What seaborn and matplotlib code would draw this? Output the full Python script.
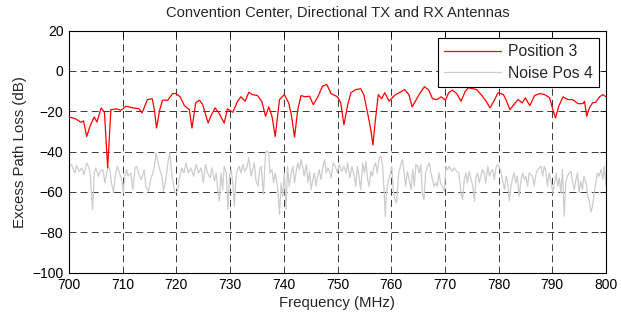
import numpy as np
import pandas as pd
import matplotlib
matplotlib.use("Agg")
import matplotlib.pyplot as plt
import seaborn as sns

# ---------------- data ----------------
pos3_freq = [
    700.0, 701.3, 702.2, 702.7, 703.3, 703.9, 704.7, 705.2, 706.0, 706.6, 707.2, 707.8, 708.8, 709.7,
    710.6, 711.9, 713.0, 713.6, 714.6, 715.5, 715.9, 716.3, 716.9, 717.4, 718.4, 719.3, 719.9,
    720.7, 721.5, 722.4, 722.9, 723.6, 724.3, 724.9, 725.9, 726.4, 727.2, 727.9, 728.9, 729.5,
    730.5, 731.4, 732.0, 732.8, 733.5, 734.1, 735.1, 735.9, 736.6, 737.2, 737.8, 738.4, 739.2,
    740.1, 740.9, 741.4, 742.0, 742.6, 743.2, 744.0, 744.8, 745.5, 746.4, 747.2, 748.0, 748.8,
    750.0, 750.6, 751.2, 751.9, 752.5, 753.4, 754.3, 754.9, 755.6, 756.2, 756.6, 757.0, 757.6,
    758.2, 758.8, 759.6, 760.2, 760.8, 761.7, 762.5, 763.3, 763.9, 764.5, 765.4, 766.2, 767.0,
    767.7, 768.5, 769.3, 770.1, 770.7, 771.4, 772.2, 773.0, 773.8, 774.4, 775.9, 776.9, 777.8,
    778.4, 779.0, 779.9, 780.9, 781.5, 782.1, 782.7, 783.6, 784.4, 785.0, 785.8, 786.7, 787.7,
    788.6, 789.5, 790.1, 790.6, 791.2, 792.0, 792.9, 793.8, 794.8, 795.7, 796.0, 796.4, 796.9,
    797.5, 798.1, 798.8, 799.4, 800.0,
]
pos3_db = [
    -22.8, -23.8, -25.5, -24.7, -32.5, -27.5, -22.8, -25.3, -18.3, -20.5, -48.0, -19.2, -18.8, -19.5,
    -17.5, -18.3, -18.7, -20.8, -14.2, -13.8, -19.2, -28.3, -19.2, -14.5, -14.5, -11.2, -11.2,
    -12.8, -17.2, -19.2, -28.3, -15.8, -14.5, -16.7, -25.8, -22.5, -18.3, -20.8, -25.8, -18.8,
    -20.5, -15.0, -12.8, -15.0, -10.5, -11.7, -12.2, -15.0, -22.5, -17.8, -22.5, -32.5, -14.2,
    -11.7, -15.8, -21.7, -32.8, -19.2, -12.2, -12.8, -12.5, -16.7, -12.5, -7.5, -6.7, -11.2,
    -12.8, -15.8, -26.7, -16.7, -10.8, -9.2, -8.8, -11.7, -20.8, -29.0, -36.7, -25.8, -11.7,
    -13.8, -10.8, -15.0, -13.3, -11.7, -10.5, -9.2, -11.7, -17.8, -15.0, -10.8, -7.8, -9.5,
    -13.8, -14.2, -12.8, -14.5, -10.8, -9.5, -11.2, -15.0, -10.0, -8.3, -9.2, -12.2, -15.5,
    -18.3, -15.5, -10.8, -11.7, -15.0, -19.2, -17.2, -14.2, -15.8, -13.3, -17.2, -12.2, -11.2,
    -11.7, -13.3, -19.2, -23.3, -17.5, -12.8, -14.2, -14.2, -16.2, -16.2, -15.0, -22.5, -18.3,
    -15.8, -15.5, -12.8, -11.7, -12.8,
]

noise_freq = [
    700.0, 700.5, 700.8, 701.1, 701.4, 701.9, 702.4, 702.8, 703.3, 703.6, 703.9, 704.4, 704.7, 705.0,
    705.5, 705.8, 706.3, 706.7, 707.0, 707.3, 707.6, 707.9, 708.3, 708.6, 709.0, 709.4, 709.8,
    710.1, 710.4, 710.7, 711.0, 711.5, 711.9, 712.3, 712.6, 713.1, 713.5, 714.0, 714.3, 714.8, 715.2,
    715.6, 715.9, 716.2, 716.6, 716.9, 717.3, 717.6, 717.9, 718.2, 718.5, 718.8, 719.1, 719.4, 719.7,
    720.2, 720.5, 721.0, 721.4, 721.8, 722.2, 722.7, 723.2, 723.7, 724.1, 724.6, 725.0, 725.4,
    725.8, 726.3, 726.6, 727.1, 727.4, 727.7, 728.0, 728.3, 728.6, 728.9, 729.3, 729.6, 729.9,
    730.2, 730.5, 730.8, 731.1, 731.4, 731.7, 732.0, 732.4, 732.7, 733.1, 733.5, 733.9, 734.2, 734.5,
    734.8, 735.2, 735.5, 735.8, 736.2, 736.6, 736.8, 737.2, 737.4, 737.8, 738.1, 738.4, 738.9, 739.2,
    739.5, 739.8,
    740.1, 740.4, 740.7, 741.0, 741.4, 741.7, 742.0, 742.3, 742.6, 742.9, 743.2, 743.5, 743.8, 744.2,
    744.5, 744.8, 745.1, 745.4, 745.7, 746.0, 746.3, 746.6, 746.9, 747.3, 747.6, 747.9, 748.2, 748.5,
    748.8, 749.2, 749.6,
    750.0, 750.3, 750.8, 751.2, 751.6, 751.9, 752.3, 752.7, 753.1, 753.4, 753.7, 754.0, 754.3, 754.7,
    755.0, 755.3, 755.6, 755.9, 756.2, 756.5, 756.8, 757.1, 757.4, 757.8, 758.1, 758.4, 758.7, 758.9,
    759.1, 759.4, 759.7,
    760.1, 760.4, 760.7, 761.0, 761.4, 761.8, 762.1, 762.4, 762.7, 763.0, 763.3, 763.7, 764.0, 764.3,
    764.6, 764.9, 765.2, 765.5, 765.8, 766.1, 766.4, 766.8, 767.1, 767.4, 767.7, 768.0, 768.3, 768.6,
    768.9, 769.2, 769.6, 769.9,
    770.2, 770.5, 770.8, 771.1, 771.4, 771.7, 772.2, 772.6, 773.0, 773.3, 773.6, 773.9, 774.2, 774.5,
    774.8, 775.2, 775.5, 775.8, 776.1, 776.4, 776.7, 777.0, 777.3, 777.6, 778.0, 778.3, 778.6, 778.9,
    779.2, 779.5, 779.8,
    780.1, 780.4, 780.7, 781.1, 781.4, 781.7, 782.0, 782.3, 782.6, 782.9, 783.2, 783.5, 783.8, 784.2,
    784.5, 784.8, 785.1, 785.4, 785.7, 786.0, 786.3, 786.6, 787.0, 787.3, 787.6, 787.9, 788.2, 788.5,
    788.8, 789.1, 789.4, 789.7,
    790.1, 790.4, 790.7, 791.0, 791.3, 791.6, 791.9, 792.2, 792.5, 792.8, 793.2, 793.5, 793.8, 794.1,
    794.4, 794.7, 795.0, 795.3, 795.6, 795.9, 796.3, 796.6, 796.9, 797.2, 797.5, 797.8, 798.1, 798.4,
    798.7, 799.1, 799.4, 799.7, 800.0,
]
noise_db = [
    -47.5, -46.4, -48.9, -50.6, -46.9, -49.8, -48.1, -51.4, -45.6, -47.3, -49.8, -68.8, -50.6, -48.1,
    -52.2, -49.8, -48.9, -55.5, -50.6, -47.3, -48.9, -55.5, -60.5, -52.2, -47.3, -50.6, -53.9,
    -60.5, -52.2, -48.9, -52.2, -50.6, -58.8, -48.1, -47.3, -52.2, -53.9, -48.9, -57.2, -59.7, -53.9,
    -50.6, -47.3, -40.7, -45.6, -48.9, -52.2, -59.7, -55.5, -50.6, -44.0, -40.7, -50.6, -55.5, -60.5,
    -59.7, -53.9, -48.1, -50.6, -45.6, -50.6, -48.1, -52.2, -46.4, -50.6, -48.1, -55.5, -46.4,
    -50.6, -53.1, -48.1, -54.7, -50.6, -58.8, -64.6, -50.6, -58.8, -47.3, -50.6, -68.8, -52.2,
    -48.9, -55.5, -67.1, -52.2, -48.9, -47.3, -50.6, -46.4, -49.8, -48.1, -43.1, -52.2, -48.9, -45.6,
    -53.9, -57.2, -48.9, -47.3, -61.3, -40.7, -39.8, -40.7, -50.6, -48.9, -55.5, -50.6, -58.8, -71.2,
    -55.5, -62.1,
    -50.6, -68.8, -47.3, -57.2, -50.6, -47.3, -55.5, -49.8, -45.6, -48.9, -44.0, -47.3, -52.2, -46.4,
    -55.5, -49.8, -58.8, -53.9, -50.6, -57.2, -52.2, -48.9, -53.9, -47.3, -44.0, -50.6, -48.1, -49.8,
    -53.1, -45.6, -47.3,
    -50.6, -46.4, -49.8, -47.3, -50.6, -45.6, -53.1, -47.3, -52.2, -57.2, -47.3, -52.2, -58.8, -45.6,
    -50.6, -44.8, -53.9, -57.2, -49.8, -52.2, -47.3, -45.6, -50.6, -43.1, -42.3, -47.3, -60.5, -72.1,
    -60.5, -55.5, -52.2,
    -47.3, -59.7, -63.8, -65.5, -50.6, -46.4, -44.0, -50.6, -57.2, -49.8, -53.1, -58.8, -48.9, -57.2,
    -46.4, -47.3, -50.6, -46.4, -60.5, -63.8, -50.6, -47.3, -45.6, -50.6, -53.9, -57.2, -55.5, -57.2,
    -50.6, -55.5, -58.0, -59.7,
    -47.3, -48.9, -47.3, -48.9, -49.8, -48.1, -49.8, -50.6, -60.5, -63.8, -53.9, -50.6, -55.5, -49.8,
    -53.1, -57.2, -64.6, -52.2, -50.6, -55.5, -52.2, -48.9, -50.6, -55.5, -47.3, -52.2, -49.8, -48.9,
    -53.9, -48.1, -46.4,
    -47.3, -49.8, -53.9, -58.8, -52.2, -55.5, -64.6, -57.2, -53.1, -50.6, -55.5, -52.2, -62.1, -53.9,
    -50.6, -53.9, -52.2, -57.2, -50.6, -51.4, -52.2, -57.2, -50.6, -48.9, -48.1, -47.3, -52.2, -47.3,
    -49.8, -57.2, -50.6, -53.9,
    -60.5, -55.5, -50.6, -57.2, -53.1, -60.5, -48.9, -72.1, -55.5, -52.2, -50.6, -49.8, -55.5, -58.8,
    -53.9, -50.6, -60.5, -54.7, -58.8, -52.2, -55.5, -62.1, -64.6, -70.0, -67.1, -60.5, -55.5, -50.6,
    -52.2, -48.9, -53.9, -47.3, -57.2,
]

x_ticks = [700, 710, 720, 730, 740, 750, 760, 770, 780, 790, 800]
y_ticks = [-100, -80, -60, -40, -20, 0, 20]
series_labels = ["Position 3", "Noise Pos 4"]

# ---------------- plot ----------------
sns.set_style("white")
plt.rcParams["font.family"] = ["Liberation Sans", "DejaVu Sans"]
plt.rcParams["font.size"] = 10
plt.rcParams["lines.scale_dashes"] = False

fig = plt.figure(figsize=(6.21, 3.2), dpi=100)
ax = fig.add_axes([69 / 621, 1 - 272.5 / 320, 537 / 621, (272.5 - 30.7) / 320])

df_pos = pd.DataFrame({"Frequency": pos3_freq, "Loss": pos3_db})
df_noise = pd.DataFrame({"Frequency": noise_freq, "Loss": noise_db})

sns.lineplot(data=df_pos, x="Frequency", y="Loss", ax=ax, color="#ff0000", lw=0.9,
             label=series_labels[0], sort=False, estimator=None, zorder=3)
sns.lineplot(data=df_noise, x="Frequency", y="Loss", ax=ax, color="#cccccc", lw=0.9,
             label=series_labels[1], sort=False, estimator=None, zorder=2)

ax.set_xlim(700, 800)
ax.set_ylim(-100, 20)
ax.set_xticks(x_ticks)
ax.set_yticks(y_ticks)
ax.grid(True, color="#1a1a1a", lw=0.6, ls=(0, (5.0, 3.0)))
ax.set_axisbelow(True)
for s in ax.spines.values():
    s.set_color("black")
    s.set_linewidth(0.8)
ax.tick_params(direction="in", top=True, right=True, length=4, width=0.6,
               colors="black", labelsize=10, pad=4)

ax.set_title("Convention Center, Directional TX and RX Antennas", fontsize=10.6, pad=10)
ax.set_xlabel("Frequency (MHz)", fontsize=10.8, labelpad=3)
ax.set_ylabel("Excess Path Loss (dB)", fontsize=10.8, labelpad=4)

leg = ax.legend(loc="upper right", fancybox=False, edgecolor="black", framealpha=1,
                handlelength=3.6, handletextpad=0.45, borderaxespad=0.45, fontsize=11.3,
                labelspacing=0.42, borderpad=0.4)
leg.get_frame().set_linewidth(0.8)

fig.savefig("out.png", dpi=100)
